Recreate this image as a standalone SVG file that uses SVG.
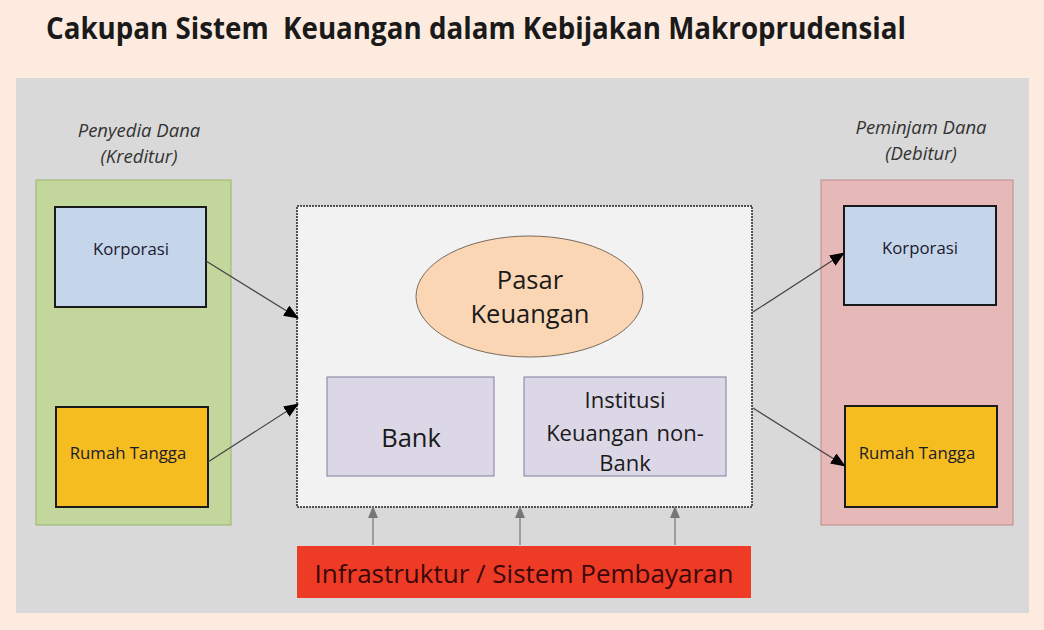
<svg xmlns="http://www.w3.org/2000/svg" width="1044" height="630" viewBox="0 0 1044 630">
<style>
.t{font-family:"Open Sans","Noto Sans","Liberation Sans",sans-serif;text-anchor:middle}
.lab{font-size:18.5px;font-style:italic;fill:#333}
.sm{font-size:16.8px;fill:#1a1a2e}
.big{font-size:25.5px;fill:#1a1a1a}
.inner{fill:#c5d5ea;stroke:#1a1a1a;stroke-width:2}
.home{fill:#f5bd1f;stroke:#1a1a1a;stroke-width:2}
.conn{stroke:#444;stroke-width:1.2;fill:none;marker-end:url(#ah)}
.up{stroke:#888;stroke-width:1.5;fill:none;marker-end:url(#ahg)}
</style>
<defs>
<marker id="ah" markerWidth="15" markerHeight="12" refX="14" refY="6" orient="auto" markerUnits="userSpaceOnUse">
<path d="M0,0 L15,6 L0,12 Z" fill="#000"/>
</marker>
<marker id="ahg" markerWidth="12" markerHeight="10" refX="11" refY="5" orient="auto" markerUnits="userSpaceOnUse">
<path d="M0,0 L12,5 L0,10 Z" fill="#777"/>
</marker>
</defs>
<rect x="0" y="0" width="1044" height="630" fill="#fdebe0"/>
<text x="46" y="39" font-family="Open Sans, Liberation Sans, sans-serif" font-weight="700" font-size="31" fill="#1a1a1a" textLength="860" lengthAdjust="spacingAndGlyphs" xml:space="preserve">Cakupan Sistem  Keuangan dalam Kebijakan Makroprudensial</text>
<rect x="16" y="78" width="1013" height="535" fill="#d9d9d9"/>

<g id="kreditur">
<rect x="36" y="180" width="195" height="345" fill="#c3d69b" stroke="#98b56a" stroke-width="1"/>
<text class="t lab" x="139" y="137">Penyedia Dana</text>
<text class="t lab" x="139" y="163">(Kreditur)</text>
</g>
<g id="kred-korporasi">
<rect class="inner" x="55" y="207" width="151" height="100"/>
<text class="t sm" x="131" y="255">Korporasi</text>
</g>
<g id="kred-rumah">
<rect class="home" x="56" y="407" width="152" height="100"/>
<text class="t sm" x="128" y="459">Rumah Tangga</text>
</g>

<g id="debitur">
<rect x="821" y="180" width="192" height="345" fill="#e6b8b7" stroke="#c08a8a" stroke-width="1"/>
<text class="t lab" x="921" y="134">Peminjam Dana</text>
<text class="t lab" x="921" y="160">(Debitur)</text>
</g>
<g id="deb-korporasi">
<rect class="inner" x="844" y="206" width="152" height="99"/>
<text class="t sm" x="920" y="254">Korporasi</text>
</g>
<g id="deb-rumah">
<rect class="home" x="845" y="406" width="152" height="101"/>
<text class="t sm" x="917" y="459">Rumah Tangga</text>
</g>

<g id="sistem-keuangan">
<rect x="297" y="206" width="455" height="301" fill="#f2f2f2" stroke="#222" stroke-width="1.5" stroke-dasharray="2,1"/>
</g>
<g id="pasar">
<ellipse cx="529.5" cy="296.5" rx="113.5" ry="60.5" fill="#fad6b4" stroke="#7a6a5a" stroke-width="1"/>
<text class="t big" x="530" y="289">Pasar</text>
<text class="t big" x="530" y="323">Keuangan</text>
</g>
<g id="bank">
<rect x="327" y="377" width="167" height="99" fill="#dcd7e6" stroke="#7f7f9f" stroke-width="1"/>
<text class="t big" x="411" y="447">Bank</text>
</g>
<g id="iknb">
<rect x="524" y="377" width="202" height="99" fill="#dcd7e6" stroke="#7f7f9f" stroke-width="1"/>
<text class="t" x="625" y="408" font-size="22" fill="#1a1a1a">Institusi</text>
<text class="t" x="625" y="441" font-size="22" fill="#1a1a1a" word-spacing="2">Keuangan non-</text>
<text class="t" x="625" y="471" font-size="22" fill="#1a1a1a">Bank</text>
</g>
<g id="infrastruktur">
<rect x="297" y="546" width="454" height="52" fill="#ee3b26"/>
<text class="t" x="524" y="583" font-size="26" fill="#3a0808">Infrastruktur / Sistem Pembayaran</text>
</g>

<g id="connectors">
<line class="conn" x1="206" y1="261" x2="298" y2="318"/>
<line class="conn" x1="208" y1="462" x2="298" y2="404"/>
<line class="conn" x1="753" y1="312" x2="844" y2="253"/>
<line class="conn" x1="753" y1="408" x2="845" y2="466"/>
<line class="up" x1="373" y1="545" x2="373" y2="507"/>
<line class="up" x1="520" y1="545" x2="520" y2="507"/>
<line class="up" x1="675" y1="545" x2="675" y2="507"/>
</g>
</svg>
